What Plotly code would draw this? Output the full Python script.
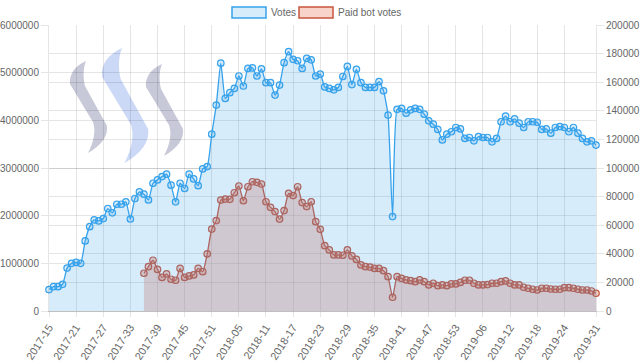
import plotly.graph_objects as go

# ---- data ----
weeks_2017 = [f"2017-{w:02d}" for w in range(15, 53)]
weeks_2018 = [f"2018-{w:02d}" for w in range(1, 54)]
weeks_2019 = [f"2019-{w:02d}" for w in range(1, 32)]
categories = weeks_2017 + weeks_2018 + weeks_2019

votes = [
    450000, 510000, 510000, 560000, 900000, 1000000, 1020000, 1000000, 1470000, 1770000,
    1910000, 1890000, 1940000, 2150000, 2060000, 2240000, 2240000, 2290000, 1930000, 2360000,
    2500000, 2450000, 2330000, 2680000, 2750000, 2820000, 2870000, 2640000, 2290000, 2680000,
    2570000, 2870000, 2770000, 2630000, 2980000, 3030000, 3710000, 4320000, 5200000, 4460000,
    4580000, 4670000, 4930000, 4720000, 5090000, 5100000, 4930000, 5080000, 4790000, 4790000,
    4530000, 4740000, 5210000, 5440000, 5280000, 5250000, 5090000, 5300000, 5270000, 4930000,
    4970000, 4700000, 4670000, 4640000, 4690000, 4920000, 5130000, 4750000, 5070000, 4790000,
    4690000, 4690000, 4690000, 4810000, 4620000, 4110000, 1980000, 4230000, 4250000, 4150000,
    4220000, 4250000, 4230000, 4130000, 3990000, 3920000, 3810000, 3590000, 3710000, 3760000,
    3850000, 3820000, 3620000, 3640000, 3570000, 3660000, 3640000, 3640000, 3550000, 3620000,
    3970000, 4090000, 3970000, 4030000, 3940000, 3850000, 3970000, 3970000, 3960000, 3810000,
    3820000, 3730000, 3850000, 3870000, 3850000, 3760000, 3850000, 3730000, 3620000, 3550000,
    3570000, 3480000,
]

bot_start = "2017-36"
paid_bot_votes = [
    26400, 31000, 35500, 29100, 23500, 26000, 22200, 21500, 29800, 23500,
    24500, 25200, 29800, 27500, 39900, 57300, 63200, 77600, 78300, 78100,
    82700, 87400, 77100, 86900, 90400, 90000, 88800, 76400, 72500, 69500,
    64300, 70200, 82300, 80700, 86900, 75800, 73000, 76400, 62500, 57100,
    45700, 42700, 39200, 39200, 39000, 42700, 38500, 36100, 32200, 31000,
    30700, 29800, 29800, 28200, 24000, 9600, 24000, 22800, 21700, 21200,
    20500, 21700, 20500, 18200, 19400, 17700, 18200, 17700, 18900, 18900,
    20000, 21500, 21500, 19400, 18200, 18200, 18500, 19400, 19400, 20500,
    21000, 19400, 18200, 18200, 16600, 15900, 15200, 14700, 15900, 15900,
    15400, 15200, 15200, 16300, 16300, 15900, 15200, 14700, 14700, 14000,
    12400,
]
bot_categories = categories[categories.index(bot_start):]

x_ticks = categories[:-2:6] + [categories[-1]]
left_ticks = list(range(0, 6000001, 1000000))
right_ticks = list(range(0, 200001, 20000))

# ---- styling ----
FONT = "Liberation Sans, Arial, sans-serif"
BLUE = "rgb(54,162,235)"
BLUE_FILL = "rgba(54,162,235,0.2)"
RED = "rgb(200,85,60)"
RED_FILL = "rgba(230,110,80,0.3)"
GRID = "rgba(0,0,0,0.1)"

W, H = 640, 361
L, R, T, B = 49, 44, 25, 50
PW, PH = W - L - R, H - T - B


def px(x):
    return (x - L) / PW


def py(y):
    return (H - B - y) / PH


fig = go.Figure()

fig.add_trace(go.Scatter(
    x=bot_categories, y=paid_bot_votes, name="Paid bot votes", yaxis="y",
    mode="lines+markers", fill="tozeroy", fillcolor=RED_FILL,
    line=dict(color=RED, width=1.3, shape="spline", smoothing=0.5),
    marker=dict(size=6.5, color=RED_FILL, line=dict(color=RED, width=1.2)),
    cliponaxis=False,
))
fig.add_trace(go.Scatter(
    x=categories, y=votes, name="Votes", yaxis="y2",
    mode="lines+markers", fill="tozeroy", fillcolor=BLUE_FILL,
    line=dict(color=BLUE, width=1.3, shape="spline", smoothing=0.5),
    marker=dict(size=6.5, color=BLUE_FILL, line=dict(color=BLUE, width=1.2)),
    cliponaxis=False,
))

# Steem-like logo swooshes (drawn in pixel space, converted to paper)
template = [("M", [(0, 0)]),
            ("C", [(-11, 5), (-17, 13), (-16, 23)]),
            ("L", [(7, 61)]),
            ("C", [(10, 69), (8, 81), (2, 92)]),
            ("C", [(16, 84), (22, 75), (21, 65)]),
            ("L", [(-1, 25)]),
            ("C", [(-3, 17), (-3, 7), (0, 0)])]


def swoosh(tx, ty, s):
    parts = []
    for cmd, pts in template:
        coords = " ".join(f"{px(tx + s * a):.4f},{py(ty + s * b):.4f}" for a, b in pts)
        parts.append(f"{cmd} {coords}")
    return " ".join(parts) + " Z"


shapes = []
for tx, ty, s, col in [(86, 61, 1.0, "#c7c8d8"), (122, 48, 1.25, "#cbd9f6"), (162, 64, 1.0, "#c7c8d8")]:
    shapes.append(dict(type="path", xref="paper", yref="paper", path=swoosh(tx, ty, s),
                       fillcolor=col, line=dict(width=0), layer="below"))

# custom legend
legend_items = [(232, 266, "Votes", BLUE_FILL, BLUE), (299, 333, "Paid bot votes", RED_FILL, RED)]
annotations = []
for x0, x1, label, fc, lc in legend_items:
    shapes.append(dict(type="rect", xref="paper", yref="paper",
                       x0=px(x0), x1=px(x1), y0=py(18), y1=py(7),
                       fillcolor=fc, line=dict(color=lc, width=1.5)))
    annotations.append(dict(text=label, xref="paper", yref="paper", x=px(x1 + 3), y=py(12.5),
                            xanchor="left", yanchor="middle", showarrow=False,
                            font=dict(family=FONT, size=10, color="#666")))

fig.update_layout(
    width=W, height=H, autosize=False,
    margin=dict(l=L, r=R, t=T, b=B, autoexpand=False),
    paper_bgcolor="white", plot_bgcolor="white",
    showlegend=False,
    font=dict(family=FONT, size=10, color="#666"),
    xaxis=dict(type="category", categoryorder="array", categoryarray=categories,
               range=[0, len(categories) - 1], tickmode="array", tickvals=x_ticks, ticktext=x_ticks,
               tickangle=-57, showgrid=True, gridcolor=GRID, gridwidth=1, automargin=False,
               ticks="outside", ticklen=5, tickcolor=GRID,
               showline=True, linecolor="rgba(0,0,0,0.25)", linewidth=1,
               zeroline=False, tickfont=dict(size=10.8, color="#666")),
    yaxis=dict(side="right", range=[0, 200000], tickmode="array", tickvals=right_ticks,
               tickformat="d", showgrid=True, gridcolor=GRID, zeroline=False, automargin=False,
               ticks="outside", ticklen=7, tickcolor=GRID,
               showline=True, linecolor=GRID, tickfont=dict(size=10, color="#666")),
    yaxis2=dict(side="left", overlaying="y", range=[0, 6000000], tickmode="array",
                tickvals=left_ticks, tickformat="d", showgrid=True, gridcolor=GRID, automargin=False,
                zeroline=False, ticks="outside", ticklen=7, tickcolor=GRID,
                showline=True, linecolor=GRID, tickfont=dict(size=10, color="#666")),
    shapes=shapes,
    annotations=annotations,
)

fig.write_html("out.html", config={"displayModeBar": False},
               post_script="document.body.style.margin='0';document.body.style.overflow='hidden';")
